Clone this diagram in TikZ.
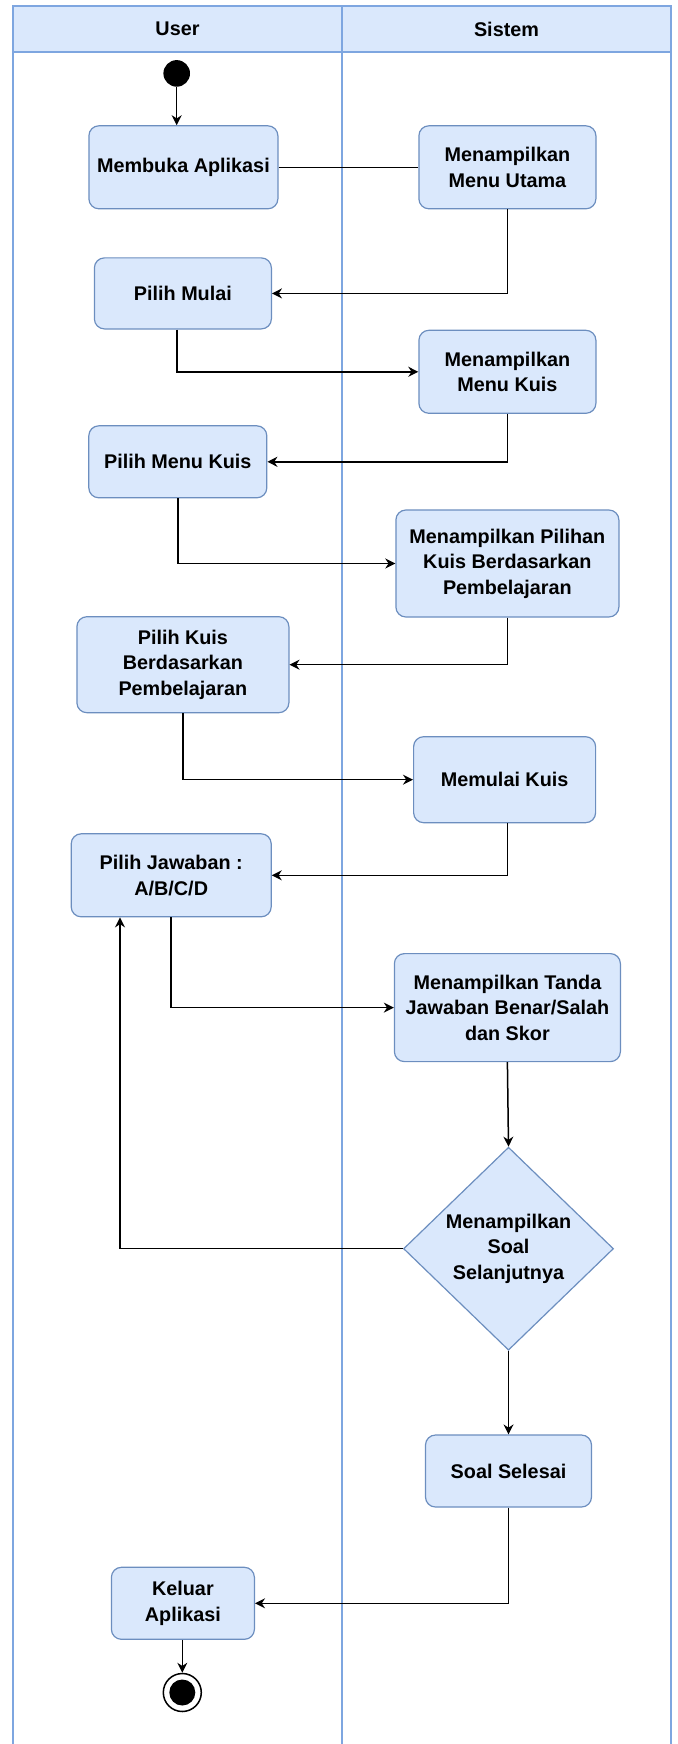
\documentclass[tikz,border=0pt]{standalone}
\usepackage{fontspec}
\setmainfont{Liberation Sans}
\usetikzlibrary{shapes.geometric,arrows.meta}
\definecolor{boxfill}{HTML}{DAE8FC}
\definecolor{boxline}{HTML}{6C8EBF}
\definecolor{lane}{HTML}{7EA6E0}
\tikzset{
  act/.style={draw=boxline, fill=boxfill, rounded corners=5pt, line width=0.6pt,
    align=center, inner sep=0pt, font=\bfseries\fontsize{9.9}{12.8}\selectfont},
  dec/.style={diamond, draw=boxline, fill=boxfill, line width=0.6pt, aspect=1,
    align=center, inner sep=0pt, font=\bfseries\fontsize{9.9}{12.8}\selectfont},
  arr/.style={line width=0.75pt, -{Stealth[length=5pt,width=5pt]}},
  ln/.style={line width=0.75pt},
}
\begin{document}
\begin{tikzpicture}[x=0.5pt,y=-0.5pt]
\useasboundingbox (0,0) rectangle (678,1744);
% swimlanes
\fill[boxfill] (13,6) rectangle (671,52);
\draw[lane, line width=0.6pt] (13,1760) -- (13,6) -- (671,6) -- (671,1760);
\draw[lane, line width=0.6pt] (13,52) -- (671,52);
\draw[lane, line width=0.6pt] (342,6) -- (342,1760);
\node[font=\bfseries\fontsize{9.9}{12}\selectfont] (huser) at (177.5,29) {User};
\node[font=\bfseries\fontsize{9.9}{12}\selectfont] (hsis) at (506.5,29) {Sistem};
% nodes
\node[circle, fill=black, minimum size=13.3pt, inner sep=0pt] (start) at (176.7,73.4) {};
\node[act, minimum width=94.5pt, minimum height=41.5pt] (membuka) at (183.4,167.3) {Membuka Aplikasi};
\node[act, minimum width=88.5pt, minimum height=41.5pt] (utama) at (507.4,167.3) {Menampilkan\\Menu Utama};
\node[act, minimum width=88.5pt, minimum height=35.5pt] (mulai) at (182.9,293.4) {Pilih Mulai};
\node[act, minimum width=88.5pt, minimum height=41.5pt] (menukuis) at (507.4,371.8) {Menampilkan\\Menu Kuis};
\node[act, minimum width=89pt, minimum height=36pt] (pmenukuis) at (177.8,461.8) {Pilih Menu Kuis};
\node[act, minimum width=111.5pt, minimum height=53.5pt] (pilihan) at (507.4,563.5) {Menampilkan Pilihan\\Kuis Berdasarkan\\Pembelajaran};
\node[act, minimum width=106pt, minimum height=48pt] (pkuis) at (182.9,664.7) {Pilih Kuis\\Berdasarkan\\Pembelajaran};
\node[act, minimum width=91pt, minimum height=43pt] (memulai) at (504.6,779.7) {Memulai Kuis};
\node[act, minimum width=100pt, minimum height=41.5pt] (jawab) at (171.2,875.3) {Pilih Jawaban :\\A/B/C/D};
\node[act, minimum width=113pt, minimum height=54pt] (tanda) at (507.4,1007.6) {Menampilkan Tanda\\Jawaban Benar/Salah\\dan Skor};
\node[dec, minimum width=105pt, minimum height=101.5pt] (soal) at (508.5,1248.7) {Menampilkan\\Soal\\Selanjutnya};
\node[act, minimum width=83pt, minimum height=36pt] (selesai) at (508.5,1471) {Soal Selesai};
\node[act, minimum width=71.5pt, minimum height=36pt] (keluar) at (182.9,1603.3) {Keluar\\Aplikasi};
\node[circle, draw=black, line width=0.75pt, fill=white, minimum size=19pt, inner sep=0pt] (end) at (182.3,1692.5) {};
\node[circle, fill=black, minimum size=13pt, inner sep=0pt] (endin) at (end.center) {};
% connectors
\draw[arr] (start) -- (membuka.north -| start);
\draw[ln] (membuka.east) -- (utama.west);
\draw[arr] (utama.south) |- (mulai.east);
\draw[arr] ([xshift=-3pt]mulai.south) |- (menukuis.west);
\draw[arr] (menukuis.south) |- (pmenukuis.east);
\draw[arr] (pmenukuis.south) |- (pilihan.west);
\draw[arr] (pilihan.south) |- (pkuis.east);
\draw[arr] (pkuis.south) |- (memulai.west);
\draw[arr] ([xshift=1.5pt]memulai.south) |- (jawab.east);
\draw[arr] (jawab.south) |- (tanda.west);
\draw[arr] (tanda.south) -- (soal.north);
\draw[arr] (soal.west) -| ([xshift=-25.6pt]jawab.south);
\draw[arr] (soal.south) -- (selesai.north);
\draw[arr] (selesai.south) |- (keluar.east);
\draw[arr] (keluar.south -| end) -- (end.north);
\end{tikzpicture}
\end{document}
